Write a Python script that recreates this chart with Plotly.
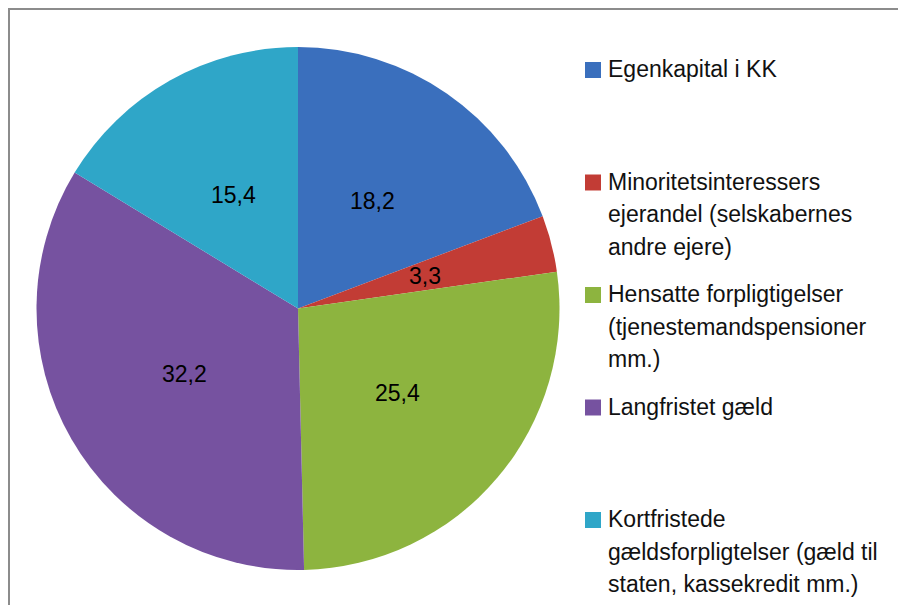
import math
import plotly.graph_objects as go

# The page body adds an 8px margin, so the figure is 8px smaller and all
# layout positions below are given in page pixels and shifted by OFF.
OFF = 8
W, H = 906 - OFF, 605 - OFF

categories = [
    "Egenkapital i KK",
    "Minoritetsinteressers ejerandel (selskabernes andre ejere)",
    "Hensatte forpligtigelser (tjenestemandspensioner mm.)",
    "Langfristet gæld",
    "Kortfristede gældsforpligtelser (gæld til staten, kassekredit mm.)",
]
values = [18.2, 3.3, 25.4, 32.2, 15.4]
legend_lines = [
    ["Egenkapital i KK"],
    ["Minoritetsinteressers", "ejerandel (selskabernes", "andre ejere)"],
    ["Hensatte forpligtigelser", "(tjenestemandspensioner", "mm.)"],
    ["Langfristet gæld"],
    ["Kortfristede", "gældsforpligtelser (gæld til", "staten, kassekredit mm.)"],
]
colors = ["#3a6fbd", "#c23c35", "#8db43f", "#7652a0", "#2fa6c8"]

FONT = "Liberation Sans, Arial, sans-serif"


def px(x):
    return (x - OFF) / W


def py(y):
    return 1 - (y - OFF) / H


# pie geometry (page pixels)
cx, cy, R = 298, 308.5, 261.5

fig = go.Figure(go.Pie(
    labels=categories,
    values=values,
    sort=False,
    direction="clockwise",
    rotation=0,
    marker=dict(colors=colors, line=dict(width=0)),
    textinfo="none",
    showlegend=False,
    hoverinfo="label+value",
    domain=dict(x=[px(cx - R), px(cx + R)], y=[py(cy + R), py(cy - R)]),
))

shapes = []
annotations = []

# data labels at half radius along each slice bisector
total = sum(values)
cum = 0.0
for v in values:
    mid = (cum + v / 2) / total * 2 * math.pi
    cum += v
    lx = cx + 0.5 * R * math.sin(mid)
    ly = cy - 0.5 * R * math.cos(mid)
    annotations.append(dict(text=f"{v:.1f}".replace(".", ","), xref="paper", yref="paper",
                            x=px(lx), y=py(ly), xanchor="center", yanchor="middle",
                            showarrow=False, font=dict(family=FONT, size=23, color="black")))

# chart frame (only top and left edges are visible in the crop)
frame = dict(color="#8c8c8c", width=2)
shapes.append(dict(type="line", xref="paper", yref="paper",
                   x0=px(8), x1=1, y0=py(9), y1=py(9), line=frame, layer="above"))
shapes.append(dict(type="line", xref="paper", yref="paper",
                   x0=px(9), x1=px(9), y0=py(8), y1=0, line=frame, layer="above"))

# legend
first_baseline = 77
item_step = 112.5
line_step = 32.5
for i, lines in enumerate(legend_lines):
    b = first_baseline + i * item_step
    shapes.append(dict(type="rect", xref="paper", yref="paper",
                       x0=px(585), x1=px(601), y0=py(b + 1), y1=py(b - 15),
                       line=dict(width=0), fillcolor=colors[i]))
    for j, t in enumerate(lines):
        bl = b + j * line_step
        annotations.append(dict(text=t, xref="paper", yref="paper",
                                x=px(606), y=py(bl - 8), xanchor="left", yanchor="middle",
                                showarrow=False, font=dict(family=FONT, size=23, color="#111111")))

fig.update_layout(
    width=W, height=H,
    margin=dict(l=0, r=0, t=0, b=0),
    paper_bgcolor="white",
    plot_bgcolor="white",
    separators=",.",
    shapes=shapes,
    annotations=annotations,
)

fig.write_html("out.html")
